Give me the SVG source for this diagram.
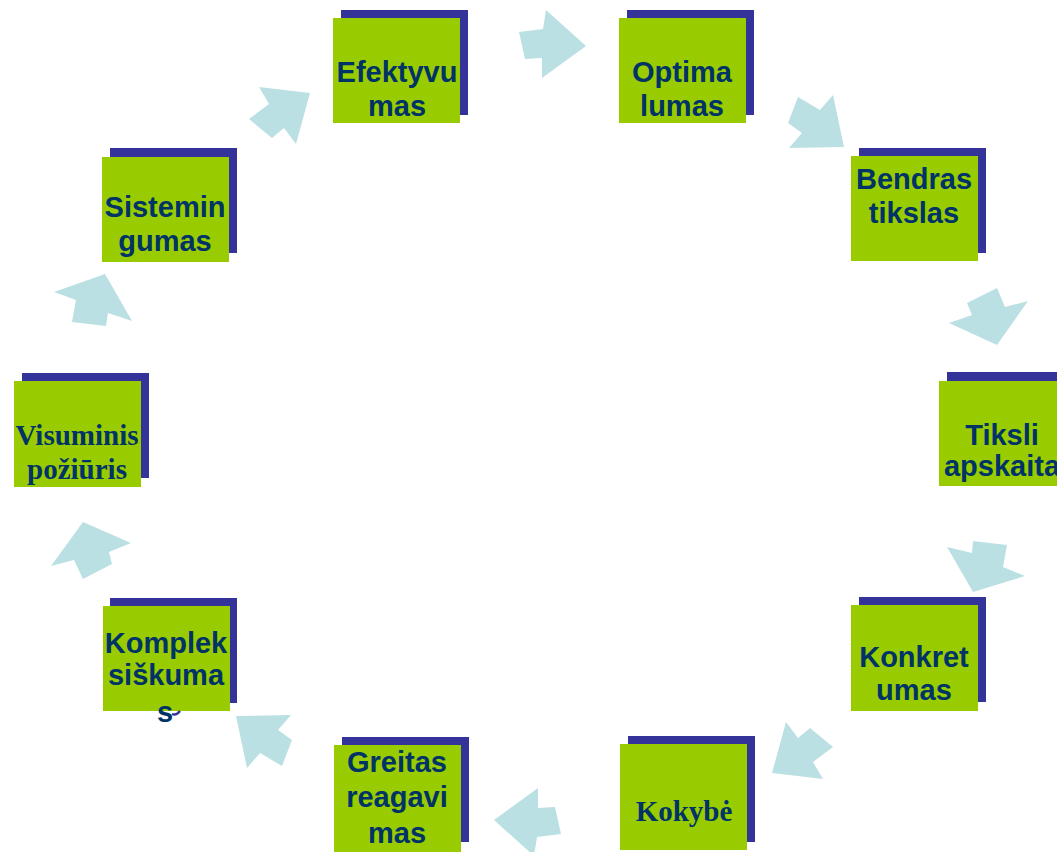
<svg xmlns="http://www.w3.org/2000/svg" width="1057" height="852" viewBox="0 0 1057 852">
<style>
.bk{fill:#333399}
.fr{fill:#99CC00}
.t{font-family:"Liberation Sans",Arial,sans-serif;font-weight:bold;font-size:29px;fill:#003366;text-anchor:middle}
.s{font-family:"Liberation Serif","Times New Roman",serif;font-weight:bold;font-size:29px;fill:#003366;text-anchor:middle}
.ar{fill:#BBE0E3}
</style>
<rect width="1057" height="852" fill="#ffffff"/>
<g id="connectors">
<polygon class="ar" points="519,32 543,29 546,10 586,46 542,78 542,58 525,59"/>
<polygon class="ar" points="798,97 820,110 833,95 844,147 789,148 802,133 788,123"/>
<polygon class="ar" points="997,288 967,303 972,315 949,323 997,345 1028,301 1005,307"/>
<polygon class="ar" points="947,547 972,553 973,541 1007,545 1003,567 1025,576 973,592"/>
<polygon class="ar" points="786,722 798,738 810,728 833,747 813,762 823,779 772,773"/>
<polygon class="ar" points="561,834 537,837 534,856 494,820 538,788 538,808 555,807"/>
<polygon class="ar" points="282,766 260,753 247,768 236,716 291,715 278,730 292,740"/>
<polygon class="ar" points="83,522 131,543 109,552 112,564 83,579 74,560 51,566"/>
<polygon class="ar" points="105,274 132,321 108,313 106,326 72,322 76,300 54,292"/>
<polygon class="ar" points="296,144 284,128 272,138 249,119 269,104 259,87 310,93"/>
</g>
<g id="efektyvumas">
<rect class="bk" x="341" y="10" width="127" height="105"/>
<rect class="fr" x="333" y="18" width="127" height="105"/>
<text class="t" x="397" y="82">Efektyvu</text>
<text class="t" x="397" y="116">mas</text>
</g>
<g id="optimalumas">
<rect class="bk" x="627" y="10" width="127" height="105"/>
<rect class="fr" x="619" y="18" width="127" height="105"/>
<text class="t" x="682" y="82">Optima</text>
<text class="t" x="682" y="116">lumas</text>
</g>
<g id="bendras">
<rect class="bk" x="859" y="148" width="127" height="105"/>
<rect class="fr" x="851" y="156" width="127" height="105"/>
<text class="t" x="914" y="189">Bendras</text>
<text class="t" x="914" y="223">tikslas</text>
</g>
<g id="tiksli">
<rect class="bk" x="947" y="372" width="127" height="105"/>
<rect class="fr" x="939" y="381" width="127" height="105"/>
<text class="t" x="1002" y="445">Tiksli</text>
<text class="t" x="1002" y="476">apskaita</text>
</g>
<g id="konkretumas">
<rect class="bk" x="859" y="597" width="127" height="105"/>
<rect class="fr" x="851" y="605" width="127" height="106"/>
<text class="t" x="914" y="667">Konkret</text>
<text class="t" x="914" y="700">umas</text>
</g>
<g id="kokybe">
<rect class="bk" x="628" y="736" width="127" height="106"/>
<rect class="fr" x="620" y="744" width="127" height="106"/>
<text class="s" x="684" y="821">Kokybė</text>
</g>
<g id="greitas">
<rect class="bk" x="342" y="737" width="127" height="105"/>
<rect class="fr" x="334" y="745" width="127" height="110"/>
<text class="t" x="397" y="772">Greitas</text>
<text class="t" x="397" y="807">reagavi</text>
<text class="t" x="397" y="843">mas</text>
</g>
<g id="kompleksiskumas">
<rect class="bk" x="110" y="598" width="127" height="105"/>
<rect class="fr" x="103" y="606" width="127" height="105"/>
<text class="t" x="166" y="653">Komplek</text>
<text class="t" x="166" y="685">siškuma</text>
<text class="t" x="165" y="722">s</text>
<path d="M172,714 Q176,716 180,711" fill="none" stroke="#333399" stroke-width="2.5"/>
</g>
<g id="visuminis">
<rect class="bk" x="22" y="373" width="127" height="105"/>
<rect class="fr" x="14" y="381" width="127" height="106"/>
<text class="s" x="77" y="445">Visuminis</text>
<text class="s" x="77" y="479">požiūris</text>
</g>
<g id="sisteminguma">
<rect class="bk" x="110" y="148" width="127" height="105"/>
<rect class="fr" x="102" y="157" width="127" height="105"/>
<text class="t" x="165" y="217">Sistemin</text>
<text class="t" x="165" y="251">gumas</text>
</g>
</svg>
